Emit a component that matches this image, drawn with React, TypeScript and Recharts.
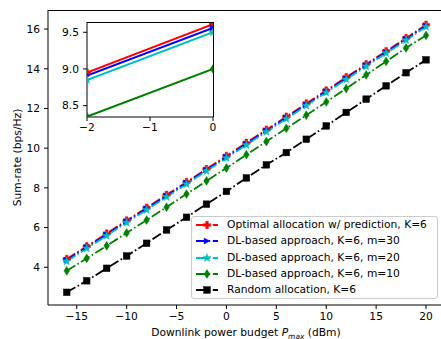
import React from 'react';
import { LineChart, Line, XAxis, YAxis } from 'recharts';

const powerBudget = [-16, -14, -12, -10, -8, -6, -4, -2, 0, 2, 4, 6, 8, 10, 12, 14, 16, 18, 20];
const optimalPred = [4.42, 5.06, 5.70, 6.36, 7.00, 7.65, 8.30, 8.95, 9.61, 10.27, 10.93, 11.59, 12.25, 12.91, 13.57, 14.23, 14.89, 15.55, 16.22];
const dlM30 = [4.37, 5.01, 5.65, 6.31, 6.95, 7.60, 8.25, 8.91, 9.56, 10.22, 10.88, 11.54, 12.20, 12.86, 13.52, 14.18, 14.84, 15.50, 16.17];
const dlM20 = [4.30, 4.95, 5.59, 6.25, 6.89, 7.54, 8.19, 8.85, 9.50, 10.16, 10.82, 11.48, 12.14, 12.80, 13.46, 14.12, 14.78, 15.44, 16.11];
const dlM10 = [3.82, 4.45, 5.08, 5.73, 6.38, 7.03, 7.69, 8.35, 9.00, 9.67, 10.33, 11.00, 11.66, 12.33, 13.00, 13.69, 14.37, 15.05, 15.68];
const randomAlloc = [2.74, 3.32, 3.95, 4.57, 5.21, 5.88, 6.52, 7.18, 7.82, 8.50, 9.16, 9.78, 10.45, 11.12, 11.80, 12.47, 13.14, 13.80, 14.45];

const xTicks = [-15, -10, -5, 0, 5, 10, 15, 20];
const yTicks = [4, 6, 8, 10, 12, 14, 16];
const insetXTicks = [-2, -1, 0];
const insetYTicks = [8.5, 9.0, 9.5];

const seriesLabels = [
  'Optimal allocation w/ prediction, K=6',
  'DL-based approach, K=6, m=30',
  'DL-based approach, K=6, m=20',
  'DL-based approach, K=6, m=10',
  'Random allocation, K=6',
];
const seriesKeys = ['opt', 'm30', 'm20', 'm10', 'rnd'];
const seriesColors = ['#ff0000', '#0000ff', '#00bfbf', '#008000', '#000000'];
const seriesMarkers = ['plus', 'tri', 'star', 'diamond', 'square'];

const chartData = powerBudget.map((p, i) => ({
  p,
  opt: optimalPred[i],
  m30: dlM30[i],
  m20: dlM20[i],
  m10: dlM10[i],
  rnd: randomAlloc[i],
}));

const FONT = '"DejaVu Sans", sans-serif';
const FS = 10.7;
const DASHDOT = '10 2.6 1.6 2.6';

function markerShape(kind: string, cx: number, cy: number, color: string, key?: any) {
  if (cx == null || cy == null || isNaN(cx) || isNaN(cy)) return <g key={key} />;
  if (kind === 'plus') {
    const r = 3.7, t = 1.3;
    const pts = [
      [cx - t, cy - r], [cx + t, cy - r], [cx + t, cy - t], [cx + r, cy - t], [cx + r, cy + t], [cx + t, cy + t],
      [cx + t, cy + r], [cx - t, cy + r], [cx - t, cy + t], [cx - r, cy + t], [cx - r, cy - t], [cx - t, cy - t],
    ].map((q) => q.join(',')).join(' ');
    return <polygon key={key} points={pts} fill={color} stroke={color} strokeWidth={0.5} />;
  }
  if (kind === 'tri') {
    const r = 2.9;
    const pts = `${cx + r},${cy} ${cx - r},${cy - r} ${cx - r},${cy + r}`;
    return <polygon key={key} points={pts} fill={color} stroke={color} strokeWidth={0.5} />;
  }
  if (kind === 'star') {
    const R = 4.3, ri = 1.8;
    const pts: string[] = [];
    for (let k = 0; k < 10; k++) {
      const a = -Math.PI / 2 + (k * Math.PI) / 5;
      const rr = k % 2 === 0 ? R : ri;
      pts.push(`${cx + rr * Math.cos(a)},${cy + rr * Math.sin(a)}`);
    }
    return <polygon key={key} points={pts.join(' ')} fill={color} stroke={color} strokeWidth={0.5} />;
  }
  if (kind === 'diamond') {
    const w = 2.8, h = 4.4;
    const pts = `${cx},${cy - h} ${cx + w},${cy} ${cx},${cy + h} ${cx - w},${cy}`;
    return <polygon key={key} points={pts} fill={color} stroke={color} strokeWidth={0.5} />;
  }
  const s = 3.3;
  return <rect key={key} x={cx - s} y={cy - s} width={2 * s} height={2 * s} fill={color} stroke={color} strokeWidth={0.5} />;
}

const fmtMinus = (v: number) => String(v).replace('-', '\u2212');

export default function App() {
  return (
    <div style={{ position: 'absolute', left: 0, top: 0, width: 441, height: 339, overflow: 'hidden', background: '#fff' }}>
      <div style={{ position: 'absolute', left: 0, top: 0 }}>
        <LineChart width={460} height={339} data={chartData} margin={{ top: 10, right: 16, bottom: 0, left: 0 }}>
          <XAxis
            dataKey="p"
            type="number"
            domain={[-17.88, 21.8]}
            allowDataOverflow
            ticks={xTicks}
            tickFormatter={fmtMinus}
            height={34}
            tickSize={4}
            tickMargin={3}
            axisLine={{ stroke: '#000', strokeWidth: 1 }}
            tickLine={{ stroke: '#000', strokeWidth: 1 }}
            tick={{ fill: '#000', fontSize: FS, fontFamily: FONT }}
          />
          <YAxis
            type="number"
            domain={[2.1, 16.96]}
            allowDataOverflow
            ticks={yTicks}
            width={48}
            tickSize={4}
            tickMargin={4}
            axisLine={{ stroke: '#000', strokeWidth: 1 }}
            tickLine={{ stroke: '#000', strokeWidth: 1 }}
            tick={{ fill: '#000', fontSize: FS, fontFamily: FONT }}
          />
          {seriesKeys.map((k, i) => (
            <Line
              key={k}
              dataKey={k}
              type="linear"
              stroke={seriesColors[i]}
              strokeWidth={1.8}
              strokeDasharray={DASHDOT}
              isAnimationActive={false}
              dot={(props: any) => markerShape(seriesMarkers[i], props.cx, props.cy, seriesColors[i], props.index)}
              activeDot={false}
            />
          ))}
        </LineChart>
      </div>
      {/* top/right spines */}
      <div style={{ position: 'absolute', left: 48, top: 10, width: 396, height: 295, borderTop: '1px solid #000', borderRight: '1px solid #000', boxSizing: 'border-box', pointerEvents: 'none' }} />

      {/* inset */}
      <div style={{ position: 'absolute', left: 60, top: 0, width: 160, height: 140 }}>
        <div style={{ position: 'absolute', left: 27, top: 22, width: 126, height: 95, background: '#fff' }} />
        <div style={{ position: 'absolute', left: 0, top: 0 }}>
          <LineChart width={160} height={140} data={chartData} margin={{ top: 22, right: 7, bottom: 0, left: 0 }}>
            <XAxis
              dataKey="p"
              type="number"
              domain={[-2, 0]}
              allowDataOverflow
              ticks={insetXTicks}
              tickFormatter={fmtMinus}
              height={23}
              tickSize={4}
              tickMargin={2}
              axisLine={{ stroke: '#000', strokeWidth: 1 }}
              tickLine={{ stroke: '#000', strokeWidth: 1 }}
              tick={{ fill: '#000', fontSize: FS, fontFamily: FONT }}
            />
            <YAxis
              type="number"
              domain={[8.345, 9.64]}
              allowDataOverflow
              ticks={insetYTicks}
              tickFormatter={(v: number) => v.toFixed(1)}
              width={27}
              tickSize={4}
              tickMargin={4}
              axisLine={{ stroke: '#000', strokeWidth: 1 }}
              tickLine={{ stroke: '#000', strokeWidth: 1 }}
              tick={{ fill: '#000', fontSize: FS, fontFamily: FONT }}
            />
            {seriesKeys.slice(0, 4).map((k, i) => (
              <Line
                key={k}
                dataKey={k}
                type="linear"
                stroke={seriesColors[i]}
                strokeWidth={2}
                isAnimationActive={false}
                dot={(props: any) => markerShape(seriesMarkers[i], props.cx, props.cy, seriesColors[i], props.index)}
                activeDot={false}
              />
            ))}
          </LineChart>
        </div>
        <div style={{ position: 'absolute', left: 27, top: 22, width: 126.5, height: 95, borderTop: '1px solid #000', borderRight: '1px solid #000', boxSizing: 'border-box', pointerEvents: 'none' }} />
      </div>

      {/* axis labels */}
      <svg width={441} height={339} style={{ position: 'absolute', left: 0, top: 0, pointerEvents: 'none' }}>
        <text x={246} y={336} textAnchor="middle" fontFamily={FONT} fontSize={FS} fill="#000">
          Downlink power budget <tspan fontStyle="italic">P</tspan>
          <tspan fontStyle="italic" fontSize={FS * 0.7} dy={2.5}>max</tspan>
          <tspan dy={-2.5}> (dBm)</tspan>
        </text>
        <text x={21} y={157.5} textAnchor="middle" fontFamily={FONT} fontSize={FS} fill="#000" transform="rotate(-90, 21, 157.5)">
          Sum-rate (bps/Hz)
        </text>
      </svg>

      {/* legend */}
      <div style={{ position: 'absolute', left: 191, top: 216, width: 247, height: 83, border: '1px solid #cccccc', borderRadius: 3, background: 'rgba(255,255,255,0.85)', boxSizing: 'border-box', fontFamily: FONT, fontSize: FS }}>
        {seriesLabels.map((lab, i) => {
          const cy = 8 + 16.25 * i;
          return (
            <div key={lab} style={{ position: 'absolute', left: 0, top: cy - 8, height: 16, width: 245 }}>
              <svg width={28} height={16} style={{ position: 'absolute', left: 2, top: 0 }}>
                <line x1={2} y1={8} x2={24} y2={8} stroke={seriesColors[i]} strokeWidth={1.8} strokeDasharray={DASHDOT} />
                {markerShape(seriesMarkers[i], 13, 8, seriesColors[i])}
              </svg>
              <span style={{ position: 'absolute', left: 35, top: 0, lineHeight: '16px', whiteSpace: 'nowrap', color: '#000' }}>{lab}</span>
            </div>
          );
        })}
      </div>
    </div>
  );
}
